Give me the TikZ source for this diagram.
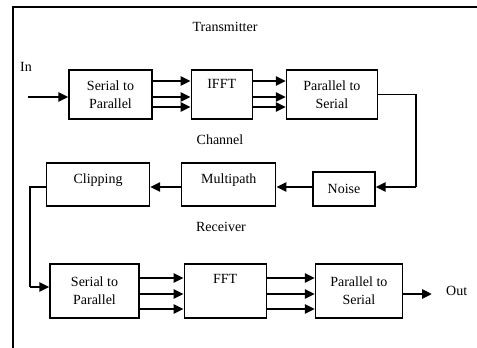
\documentclass[tikz,border=0pt]{standalone}
\usepackage{fontspec}
\setmainfont{Liberation Serif}
\usetikzlibrary{positioning, arrows.meta}

\tikzset{
  block/.style={draw, line width=1.2pt, align=center, inner sep=0pt},
  title/.style={inner sep=0pt},
  bus/.style={-{Triangle[length=10pt, width=9pt]}, line width=2.6pt},
  wire/.style={line width=1.2pt},
}

\begin{document}
\begin{tikzpicture}[x=1pt, y=-1pt, font=\fontsize{14}{18}\selectfont]
  \useasboundingbox (0,0) rectangle (477,348);
  \draw[line width=1.4pt] (13,348) -- (13,7) -- (477,7);

  % transmitter
  \node[title] (tx) at (225,27) {Transmitter};
  \node[title] (in) at (26,67) {In};
  \coordinate (in0) at (28,97);
  \node[block, minimum width=83pt, minimum height=49pt] (sp1) at (110.5,94.5) {Serial to\\Parallel};
  \node[block, minimum width=61pt, text height=18pt, text depth=31pt, right=38pt of sp1] (ifft) {IFFT};
  \node[block, minimum width=91pt, minimum height=49pt, right=33pt of ifft] (ps1) {Parallel to\\Serial};

  % channel
  \node[title] (ch) at (220,140) {Channel};
  \node[block, minimum width=62pt, minimum height=34pt] (noise) at (344,189) {Noise};
  \node[block, minimum width=94pt, text height=20pt, text depth=23pt, anchor=south east] (mp) at ([xshift=-36pt]noise.south west) {Multipath};
  \node[block, minimum width=103pt, text height=20pt, text depth=23pt, anchor=south east] (clip) at ([xshift=-31pt]mp.south west) {Clipping};
  \coordinate (c2) at (416,187);
  \coordinate (c3) at (30,287);

  % receiver
  \node[title] (rx) at (221,227) {Receiver};
  \node[block, minimum width=89pt, minimum height=54pt] (sp2) at (94.5,291) {Serial to\\Parallel};
  \node[block, minimum width=82pt, text height=19pt, text depth=35pt, right=44pt of sp2] (fft) {FFT};
  \node[block, minimum width=87pt, minimum height=54pt, right=48pt of fft] (ps2) {Parallel to\\Serial};
  \node[title, right=43pt of ps2] (out) {Out};

  % connectors (yshift is upwards)
  \draw[bus] (in0) -- (in0 -| sp1.west);
  \foreach \dy in {13.5, -2.5, -12.5} {
    \draw[bus] ([yshift=\dy pt]sp1.east) -- ([yshift=\dy pt]sp1.east -| ifft.west);
    \draw[bus] ([yshift=\dy pt]ifft.east) -- ([yshift=\dy pt]ifft.east -| ps1.west);
  }
  \draw[wire] (ps1.east) -| (c2);
  \draw[bus] (c2) -- (c2 -| noise.east);
  \draw[bus] (noise.west |- c2) -- (mp.east |- c2);
  \draw[bus] (mp.west |- c2) -- (clip.east |- c2);
  \draw[wire] (clip.west |- c2) -| (c3);
  \draw[bus] (c3) -- (c3 -| sp2.west);
  \foreach \dy in {13, -3, -18} {
    \draw[bus] ([yshift=\dy pt]sp2.east) -- ([yshift=\dy pt]sp2.east -| fft.west);
    \draw[bus] ([yshift=\dy pt]fft.east) -- ([yshift=\dy pt]fft.east -| ps2.west);
  }
  \draw[bus, shorten >=14pt] ([yshift=-3pt]ps2.east) -- ([yshift=-3pt]ps2.east -| out.west);
\end{tikzpicture}
\end{document}
